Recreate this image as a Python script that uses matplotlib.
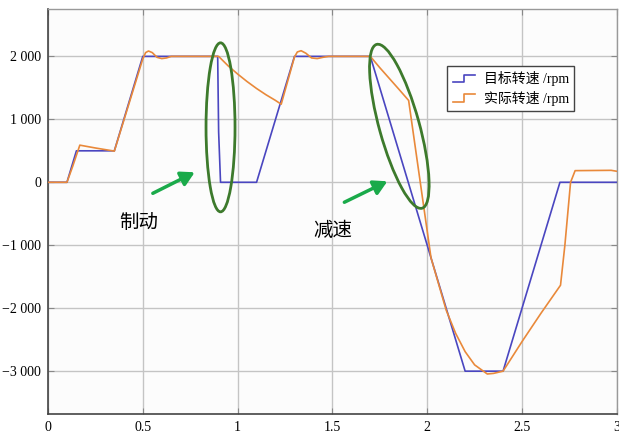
import matplotlib
matplotlib.use('Agg')
import matplotlib.pyplot as plt
from matplotlib.lines import Line2D
from matplotlib.legend_handler import HandlerBase
from matplotlib.patches import Ellipse
from matplotlib.ticker import FuncFormatter
from matplotlib import transforms

# target speed (blue)
target_t = [0, 0.1, 0.15, 0.35, 0.5, 0.895, 0.9, 0.91, 1.1, 1.3, 1.7, 2.2, 2.4, 2.7, 3.0]
target_v = [0, 0, 500, 500, 2000, 2000, 800, 0, 0, 2000, 2000, -3000, -3000, 0, 0]

# actual speed (orange)
actual_t = [0, 0.1, 0.13, 0.168, 0.25, 0.35, 0.5, 0.515, 0.53, 0.55, 0.575, 0.6, 0.625, 0.65,
            0.9, 0.95, 1.0, 1.05, 1.1, 1.15, 1.2, 1.23, 1.3, 1.315, 1.335, 1.36, 1.39, 1.42,
            1.45, 1.48, 1.7, 1.75, 1.8, 1.85, 1.902, 2.02, 2.1, 2.15, 2.2, 2.25, 2.317, 2.35,
            2.4, 2.5, 2.6, 2.703, 2.726, 2.756, 2.78, 2.97, 3.0]
actual_v = [0, 0, 250, 590, 545, 495, 1960, 2060, 2085, 2060, 1985, 1965, 1975, 2000,
            2000, 1850, 1720, 1600, 1490, 1390, 1300, 1240, 1990, 2070, 2090, 2050, 1975, 1965,
            1985, 2000, 2000, 1820, 1650, 1480, 1300, -1200, -2030, -2400, -2690, -2900, -3045, -3035,
            -3000, -2530, -2080, -1635, -1000, 0, 185, 190, 175]

labels = ['目标转速 /rpm', '实际转速 /rpm']
xticks = [0, 0.5, 1, 1.5, 2, 2.5, 3]
yticks = [-3000, -2000, -1000, 0, 1000, 2000]

blue = '#4a46c0'
orange = '#e9893a'
green_line = '#3d7a2c'
green_arrow = '#1aaa4a'
serif_cjk = ['Liberation Serif', 'Noto Sans CJK SC']


class StepHandler(HandlerBase):
    def create_artists(self, legend, orig_handle, xdescent, ydescent, width, height, fontsize, trans):
        x0 = -xdescent
        xm = x0 + 0.5 * width
        x1 = x0 + width
        ylo = -ydescent + 0.1 * height
        yhi = -ydescent + 0.9 * height
        ln = Line2D([x0, xm, xm, x1], [ylo, ylo, yhi, yhi], color=orig_handle.get_color(),
                    lw=1.2, transform=trans)
        return [ln]


def fmt(v, pos):
    s = '{:,.0f}'.format(abs(v)).replace(',', ' ')
    return ('\u2212' + s) if v < 0 else s


fig = plt.figure(figsize=(6.19, 4.36), dpi=100)
ax = fig.add_axes([0.0775, 0.0505, 0.919, 0.9285])
ax.set_facecolor('#fcfcfc')

p1, = ax.plot(target_t, target_v, color=blue, lw=1.2, zorder=3)
p2, = ax.plot(actual_t, actual_v, color=orange, lw=1.2, zorder=4)

ax.set_xlim(0, 3)
ax.set_ylim(-3680, 2750)
ax.set_xticks(xticks)
ax.set_xticklabels(['0', '0.5', '1', '1.5', '2', '2.5', '3'])
ax.set_yticks(yticks)
ax.yaxis.set_major_formatter(FuncFormatter(fmt))
ax.grid(True, color='#c4c4c4', lw=1.0)
ax.set_axisbelow(True)
ax.tick_params(direction='in', length=4, top=True, right=True, color='#888888',
               labelsize=10, pad=5)
for lab in ax.get_xticklabels() + ax.get_yticklabels():
    lab.set_family('Liberation Serif')
for side in ['left', 'bottom']:
    ax.spines[side].set_color('#444444')
    ax.spines[side].set_linewidth(1.2)
for side in ['top', 'right']:
    ax.spines[side].set_color('#999999')
    ax.spines[side].set_linewidth(1.0)

leg = ax.legend([p1, p2], labels, handler_map={Line2D: StepHandler()},
                loc='upper left', bbox_to_anchor=(0.690, 0.877), fancybox=False,
                framealpha=1, edgecolor='#444444', handlelength=1.6, borderpad=0.4,
                labelspacing=0.3, handletextpad=0.6, prop={'family': serif_cjk, 'size': 10})
leg.get_frame().set_linewidth(1.0)
leg.set_zorder(6)

# ellipses around braking / deceleration zones (size in inches, centre in data)
for cx, cy, w, h, ang in [(0.91, 873, 0.29, 1.69, 0), (1.853, 889, 0.40, 1.70, 15.5)]:
    tr = fig.dpi_scale_trans + transforms.ScaledTranslation(cx, cy, ax.transData)
    e = Ellipse((0, 0), w, h, angle=ang, fill=False, ec=green_line, lw=2.0,
                transform=tr, zorder=5)
    ax.add_patch(e)

for (x0, y0), (x1, y1) in [((0.553, -175), (0.774, 159)), ((1.563, -317), (1.79, 16))]:
    ax.annotate('', xy=(x1, y1), xytext=(x0, y0),
                arrowprops=dict(arrowstyle='-|>,head_length=0.8,head_width=0.45',
                                color=green_arrow, lw=2.5, shrinkA=0, shrinkB=0), zorder=5)

ax.text(0.48, -635, '制动', fontsize=14, family='Noto Sans CJK SC', ha='center', va='center')
ax.text(1.5, -762, '减速', fontsize=14, family='Noto Sans CJK SC', ha='center', va='center')

fig.savefig('out.png', dpi=100)
plt.close(fig)
